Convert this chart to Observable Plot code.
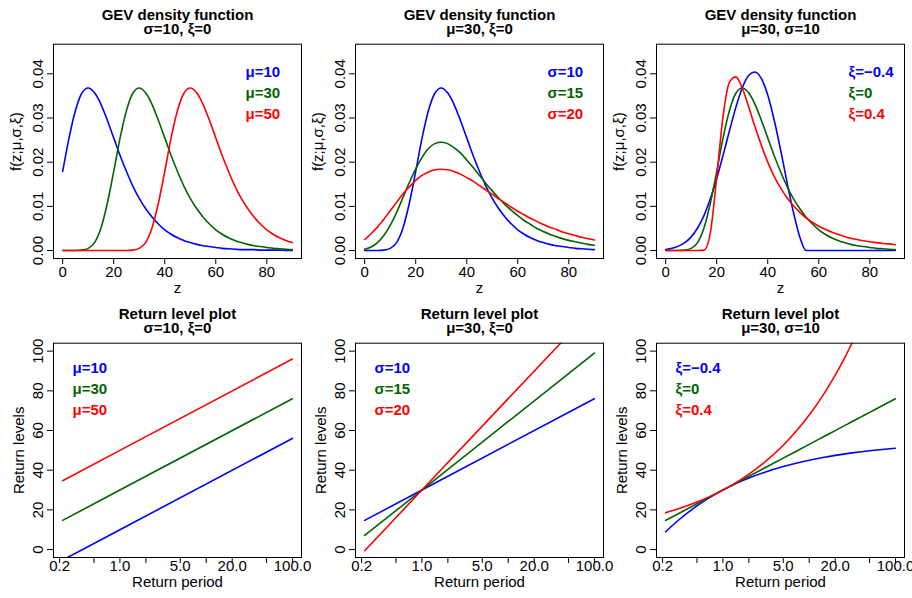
<!DOCTYPE html>
<html><head><meta charset="utf-8">
<script src="https://cdn.jsdelivr.net/npm/d3@7"></script>
<script src="https://cdn.jsdelivr.net/npm/@observablehq/plot@0.6"></script>
<style>
body{margin:0;background:#fff;}
#wrap{position:relative;width:912px;height:598px;overflow:hidden;background:#fff;}
.panel{position:absolute;width:304px;height:299px;}
.panel svg{overflow:visible;background:transparent;}
</style></head><body><div id="wrap"></div>
<script>
// ---- data ----
const zGrid = [0,2.5,5,7.5,10,12.5,15,17.5,20,22.5,25,27.5,30,32.5,35,37.5,40,42.5,45,47.5,50,52.5,55,57.5,60,62.5,65,67.5,70,72.5,75,77.5,80,82.5,85,87.5,90];
const densMu10 = [0.0179,0.0255,0.0317,0.0356,0.0368,0.0357,0.0331,0.0295,0.0255,0.0215,0.0179,0.0146,0.0118,0.0095,0.0076,0.0060,0.0047,0.0037,0.0029,0.0023,0.0018,0.0014,0.0011,0.0009,0.0007,0.0005,0.0004,0.0003,0.0002,0.0002,0.0002,0.0001,0.0001,0.0001,0.0001,0.0000,0.0000];
const densMu30 = [0,0,0,0.0001,0.0005,0.0018,0.0051,0.0107,0.0179,0.0255,0.0317,0.0356,0.0368,0.0357,0.0331,0.0295,0.0255,0.0215,0.0179,0.0146,0.0118,0.0095,0.0076,0.0060,0.0047,0.0037,0.0029,0.0023,0.0018,0.0014,0.0011,0.0009,0.0007,0.0005,0.0004,0.0003,0.0002];
const densMu50 = [0,0,0,0,0,0,0,0,0,0,0,0.0001,0.0005,0.0018,0.0051,0.0107,0.0179,0.0255,0.0317,0.0356,0.0368,0.0357,0.0331,0.0295,0.0255,0.0215,0.0179,0.0146,0.0118,0.0095,0.0076,0.0060,0.0047,0.0037,0.0029,0.0023,0.0018];
const densSigma10 = densMu30;
const densSigma15 = [0.0003,0.0008,0.0018,0.0034,0.0057,0.0086,0.0120,0.0154,0.0185,0.0211,0.0231,0.0242,0.0245,0.0242,0.0233,0.0221,0.0205,0.0188,0.0170,0.0152,0.0135,0.0119,0.0104,0.0091,0.0079,0.0068,0.0059,0.0050,0.0043,0.0037,0.0032,0.0027,0.0023,0.0020,0.0017,0.0014,0.0012];
const densSigma20 = [0.0025,0.0038,0.0053,0.0071,0.0090,0.0109,0.0128,0.0144,0.0159,0.0170,0.0178,0.0183,0.0184,0.0183,0.0179,0.0173,0.0165,0.0157,0.0147,0.0137,0.0127,0.0117,0.0108,0.0098,0.0089,0.0081,0.0073,0.0066,0.0059,0.0053,0.0048,0.0042,0.0038,0.0034,0.0030,0.0027,0.0024];
const densXiNeg = [0.0002,0.0005,0.0010,0.0018,0.0031,0.0051,0.0079,0.0117,0.0163,0.0216,0.0271,0.0324,0.0368,0.0396,0.0404,0.0389,0.0352,0.0296,0.0229,0.0156,0.0088,0.0032,0,0,0,0,0,0,0,0,0,0,0,0,0,0,0];
const densXi0 = densMu30;
const densXiPos = [0,0,0,0,0,0,0.0001,0.0040,0.0166,0.0304,0.0381,0.0393,0.0368,0.0326,0.0280,0.0238,0.0200,0.0168,0.0142,0.0120,0.0102,0.0087,0.0074,0.0064,0.0055,0.0048,0.0042,0.0037,0.0032,0.0028,0.0025,0.0022,0.0020,0.0018,0.0016,0.0015,0.0013];

const periodEnds = [0.217, 1, 99.5];
const levelMu10 = [-5.3, 10, 56.0];
const levelMu30 = [14.7, 30, 76.0];
const levelMu50 = [34.7, 50, 96.0];
const levelSigma10 = [14.7, 30, 76.0];
const levelSigma15 = [7.1, 30, 99.0];
const levelSigma20 = [-0.6, 30, 122.0];
const periodGrid = [0.217,0.3,0.5,0.7,1,1.5,2,3,5,7,10,15,20,25,30,40,50,70,99.5];
const levelXiNeg = [8.95,14.53,22.01,26.16,30,33.74,36.05,38.89,41.87,43.52,45.05,46.54,47.46,48.10,48.59,49.29,49.77,50.43,51.03];
const levelXi0 = [14.72,17.96,23.07,26.43,30,34.05,36.93,40.99,46.09,49.46,53.03,57.08,59.96,62.19,64.01,66.89,69.12,72.48,76.00];
const levelXiPos = [18.57,20.45,23.95,26.68,30,34.40,37.99,43.80,52.59,59.45,67.80,78.86,87.86,95.6,102.45,114.3,124.55,141.7,162.4];

// ticks and labels
const densXTicks = [0,20,40,60,80];
const densXTickLabels = ["0","20","40","60","80"];
const densYTicks = [0,0.01,0.02,0.03,0.04];
const densYTickLabels = ["0.00","0.01","0.02","0.03","0.04"];
const periodTicks = [0.2,0.5,1,2,5,10,20,50,100];
const periodLabelTicks = [0.2,1,5,20,100];
const periodTickLabels = ["0.2","1.0","5.0","20.0","100.0"];
const levelYTicks = [0,20,40,60,80,100];
const levelYTickLabels = ["0","20","40","60","80","100"];

const legendMu = ["μ=10","μ=30","μ=50"];
const legendSigma = ["σ=10","σ=15","σ=20"];
const legendXi = ["ξ=−0.4","ξ=0","ξ=0.4"];
const COLORS = ["#0000ff","#006400","#ff0000"];
const FONT = '"Liberation Sans", Arial, Helvetica, sans-serif';

const panels = [
  {row:0,col:0,title:["GEV density function","σ=10, ξ=0"],xs:zGrid,ys:[densMu10,densMu30,densMu50],legend:legendMu},
  {row:0,col:1,title:["GEV density function","μ=30, ξ=0"],xs:zGrid,ys:[densSigma10,densSigma15,densSigma20],legend:legendSigma},
  {row:0,col:2,title:["GEV density function","μ=30, σ=10"],xs:zGrid,ys:[densXiNeg,densXi0,densXiPos],legend:legendXi},
  {row:1,col:0,title:["Return level plot","σ=10, ξ=0"],xs:periodEnds,ys:[levelMu10,levelMu30,levelMu50],legend:legendMu},
  {row:1,col:1,title:["Return level plot","μ=30, ξ=0"],xs:periodEnds,ys:[levelSigma10,levelSigma15,levelSigma20],legend:legendSigma},
  {row:1,col:2,title:["Return level plot","μ=30, σ=10"],xs:periodGrid,ys:[levelXiNeg,levelXi0,levelXiPos],legend:legendXi}
];

const LEFTS = [0, 301.5, 602.5];
const wrap = document.getElementById("wrap");

panels.forEach(p => {
  const top = p.row === 0;
  const marks = [];
  p.ys.forEach((vals, i) => {
    const data = p.xs.map((x, j) => ({x, y: vals[j]}));
    marks.push(Plot.line(data, {x: "x", y: "y", stroke: COLORS[i], strokeWidth: 1.6,
      curve: top ? "monotone-x" : (p.col === 2 ? "monotone-x" : "linear"), clip: true}));
  });
  marks.push(Plot.frame({stroke: "#000", strokeWidth: 1}));
  const xTicks = top ? densXTicks : periodTicks;
  const xLabTicks = top ? densXTicks : periodLabelTicks;
  const xLabs = top ? densXTickLabels : periodTickLabels;
  const yTicks = top ? densYTicks : levelYTicks;
  const yLabs = top ? densYTickLabels : levelYTickLabels;
  marks.push(Plot.axisX({ticks: xTicks, tickSize: 6, tickFormat: () => "", label: null, stroke: "#000"}));
  marks.push(Plot.axisY({ticks: yTicks, tickSize: 6, tickFormat: () => "", label: null, stroke: "#000"}));
  marks.push(Plot.text(xLabTicks, {x: d => d, text: (d, i) => xLabs[i], frameAnchor: "bottom",
    dy: top ? 18.7 : 13.6, lineAnchor: "bottom", fontSize: 15, fill: "#000"}));
  marks.push(Plot.text(yTicks, {y: d => d, text: (d, i) => yLabs[i], frameAnchor: "left",
    dx: -11, rotate: -90, textAnchor: "middle", lineAnchor: "bottom", fontSize: 15, fill: "#000"}));
  // titles
  marks.push(Plot.text([p.title[0]], {text: d => d, frameAnchor: "top", dy: 19 - 43.7,
    lineAnchor: "bottom", fontWeight: "bold", fontSize: 15, fill: "#000"}));
  marks.push(Plot.text([p.title[1]], {text: d => d, frameAnchor: "top", dy: 33.5 - 43.7,
    lineAnchor: "bottom", fontWeight: "bold", fontSize: 15, fill: "#000"}));
  // axis labels
  marks.push(Plot.text([top ? "z" : "Return period"], {text: d => d, frameAnchor: "bottom",
    dy: top ? 34.5 : 29.3, lineAnchor: "bottom", fontSize: 15, fill: "#000"}));
  marks.push(Plot.text([top ? "f(z;μ,σ,ξ)" : "Return levels"], {text: d => d, frameAnchor: "left",
    dx: top ? -33 : -29.7, dy: top ? -9.7 : 0, rotate: -90, textAnchor: "middle", lineAnchor: "bottom",
    fontSize: 15, fill: "#000"}));
  // legend
  p.legend.forEach((lab, i) => {
    marks.push(Plot.text([lab], {text: d => d, frameAnchor: "top-left",
      dx: top ? 192 : 19, dy: (top ? 32.3 : 29.6) + i * 21.2, textAnchor: "start", lineAnchor: "bottom",
      fontWeight: "bold", fontSize: 15, fill: COLORS[i]}));
  });
  const chart = Plot.plot({
    width: 304, height: 299,
    marginTop: 43.7, marginBottom: 41, marginLeft: 53, marginRight: 3,
    style: {fontFamily: FONT, fontSize: "15px", background: "transparent", overflow: "visible", color: "#000"},
    x: top ? {domain: [-3.6, 93.6]} : {type: "log", domain: [0.17, 127]},
    y: top ? {domain: [-0.0018, 0.0467]} : {domain: [-4, 104]},
    marks
  });
  const div = document.createElement("div");
  div.className = "panel";
  div.style.left = LEFTS[p.col] + "px";
  div.style.top = (p.row * 299) + "px";
  div.appendChild(chart);
  wrap.appendChild(div);
});
</script>
</body></html>
